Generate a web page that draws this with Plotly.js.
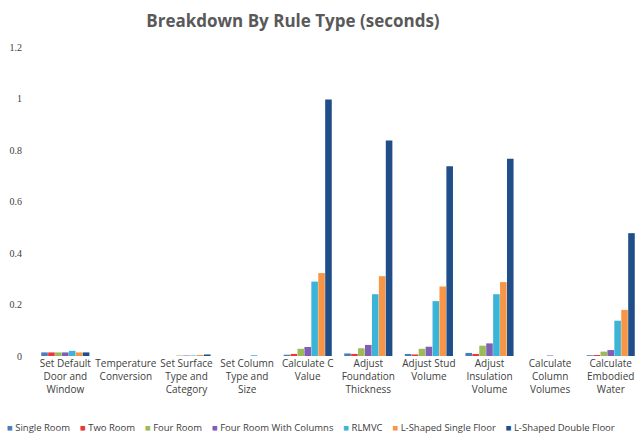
<!DOCTYPE html>
<html><head><meta charset="utf-8">
<script src="https://cdn.plot.ly/plotly-3.0.1.min.js"></script>
<style>html,body{margin:0;padding:0;background:#fff}#c{width:641px;height:442px}</style>
</head><body><div id="c"></div>
<script>
const categories = ["Set Default<br>Door and<br>Window","Temperature<br>Conversion","Set Surface<br>Type and<br>Category","Set Column<br>Type and<br>Size","Calculate C<br>Value","Adjust<br>Foundation<br>Thickness","Adjust Stud<br>Volume","Adjust<br>Insulation<br>Volume","Calculate<br>Column<br>Volumes","Calculate<br>Embodied<br>Water"];
const seriesNames = ["Single Room","Two Room","Four Room","Four Room With Columns","RLMVC","L-Shaped Single Floor","L-Shaped Double Floor"];
const singleRoom   = [0.014, 0, 0.000, 0.000, 0.005, 0.010, 0.008, 0.012, 0.000, 0.003];
const twoRoom      = [0.014, 0, 0.000, 0.000, 0.008, 0.008, 0.006, 0.008, 0.000, 0.004];
const fourRoom     = [0.014, 0, 0.002, 0.000, 0.028, 0.030, 0.028, 0.040, 0.000, 0.017];
const fourRoomCols = [0.014, 0, 0.002, 0.000, 0.035, 0.043, 0.036, 0.049, 0.002, 0.023];
const rlmvc        = [0.020, 0, 0.002, 0.003, 0.289, 0.240, 0.213, 0.240, 0.000, 0.137];
const lSingle      = [0.014, 0, 0.004, 0.000, 0.322, 0.310, 0.270, 0.287, 0.000, 0.179];
const lDouble      = [0.014, 0, 0.006, 0.000, 0.996, 0.837, 0.737, 0.766, 0.000, 0.477];
const colors = ["#4A7EBB","#E8383D","#9BBB59","#7F5FB5","#3CB4D8","#F79646","#1F4E89"];
const values = [singleRoom, twoRoom, fourRoom, fourRoomCols, rlmvc, lSingle, lDouble];
const data = values.map((v,i)=>({type:'bar', name:seriesNames[i], x:categories, y:v, marker:{color:colors[i]}, showlegend:false}));
const legendText = seriesNames.map((n,i)=>'<span style="color:'+colors[i]+'">■</span> '+n).join('&nbsp;&nbsp;&nbsp;&nbsp;');
const layout = {
  width:641, height:442,
  margin:{l:35, r:0, t:47, b:86},
  paper_bgcolor:'#fff', plot_bgcolor:'#fff',
  title:{text:'<b>Breakdown By Rule Type (seconds)</b>', x:0.457, xanchor:'center', y:0.965, font:{family:'Open Sans, sans-serif', size:17, color:'#595959'}},
  barmode:'group', bargap:0.2, bargroupgap:0.05,
  xaxis:{showgrid:false, showline:false, zeroline:false, tickangle:0, tickfont:{family:'Open Sans, sans-serif', size:10, color:'#404040'}, automargin:false},
  yaxis:{range:[0,1.2], showgrid:false, showline:false, zeroline:false, tickvals:[0,0.2,0.4,0.6,0.8,1,1.2], ticktext:['0','0.2','0.4','0.6','0.8','1','1.2'], tickfont:{family:'Liberation Serif, serif', size:10, color:'#404040'}, ticks:'', ticklabelstandoff:12, automargin:false},
  showlegend:false,
  annotations:[{xref:'paper', yref:'paper', x:-0.05, y:-0.23, xanchor:'left', yanchor:'middle', showarrow:false, text:legendText, font:{family:'Open Sans, sans-serif', size:9.5, color:'#404040'}}]
};
Plotly.newPlot('c', data, layout, {displayModeBar:false, staticPlot:true});
</script></body></html>
